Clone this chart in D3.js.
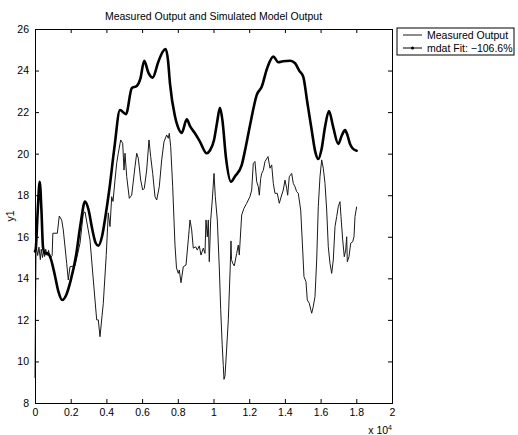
<!DOCTYPE html>
<html>
<head>
<meta charset="utf-8">
<script src="https://cdn.jsdelivr.net/npm/d3@7"></script>
<style>
  html, body { margin: 0; padding: 0; background: #fff; }
  svg { display: block; font-family: "Liberation Sans", Arial, Helvetica, sans-serif; }
</style>
</head>
<body>
<svg id="chart" width="518" height="435"></svg>
<script>
// Sample index (raw units, axis shown as x 10^4) and output value pairs.
const measuredX = [0, 30, 60, 73, 150, 220, 300, 350, 420, 480, 540, 600, 680, 760, 830, 913, 960, 1000, 1250, 1361, 1496, 1585, 1776, 1865, 1961, 2241, 2521, 2706, 2801, 3081, 3266, 3456, 3546, 3641, 3826, 3990, 4106, 4202, 4297, 4370, 4482, 4577, 4666, 4801, 4913, 4986, 5042, 5137, 5283, 5417, 5602, 5697, 5787, 5921, 6033, 6123, 6257, 6386, 6481, 6594, 6722, 6818, 6963, 7098, 7227, 7378, 7467, 7523, 7602, 7714, 7787, 7843, 7927, 8028, 8084, 8179, 8308, 8459, 8588, 8683, 8778, 8868, 9002, 9092, 9204, 9299, 9428, 9523, 9579, 9652, 9708, 9764, 9843, 9932, 10028, 10101, 10213, 10325, 10403, 10487, 10548, 10588, 10644, 10700, 10829, 10935, 10980, 11010, 11075, 11165, 11299, 11389, 11445, 11579, 11708, 11860, 11949, 12043, 12140, 12229, 12324, 12420, 12509, 12565, 12644, 12700, 12790, 12884, 13053, 13165, 13260, 13350, 13445, 13574, 13686, 13820, 13910, 14005, 14100, 14156, 14246, 14380, 14470, 14565, 14660, 14750, 14885, 14997, 15069, 15181, 15254, 15366, 15445, 15501, 15590, 15686, 15781, 15870, 15966, 16061, 16151, 16246, 16341, 16431, 16526, 16621, 16711, 16807, 16902, 16991, 17086, 17142, 17238, 17327, 17406, 17462, 17496, 17590, 17686, 17798, 17871, 17927, 18022];
const measuredY = [9.2, 13.0, 15.5, 15.52, 15.1, 15.5, 14.9, 15.4, 15.0, 15.3, 15.05, 15.4, 15.1, 15.35, 15.0, 15.04, 15.1, 16.17, 16.17, 17.0, 16.8, 16.33, 14.72, 13.92, 14.56, 14.6, 15.69, 17.13, 17.2, 15.85, 13.92, 12.0, 12.0, 11.19, 12.8, 15.1, 17.15, 16.49, 17.93, 17.7, 18.73, 19.54, 20.02, 20.66, 20.5, 19.21, 20.02, 18.9, 17.85, 18.0, 19.37, 20.02, 19.78, 18.73, 18.25, 18.33, 19.21, 20.66, 19.86, 19.05, 17.93, 17.77, 18.41, 19.7, 20.58, 20.9, 20.74, 20.98, 20.34, 18.41, 16.81, 15.6, 14.5, 14.24, 14.4, 13.79, 14.56, 14.64, 15.85, 16.81, 16.33, 15.45, 15.52, 15.36, 15.56, 15.12, 15.45, 15.2, 16.81, 16.0, 16.81, 14.8, 16.81, 17.77, 19.05, 17.93, 16.81, 14.5, 12.5, 10.8, 9.8, 9.14, 9.3, 10.07, 12.0, 14.5, 15.8, 14.9, 14.72, 14.6, 15.2, 15.6, 15.12, 17.05, 17.37, 17.61, 17.77, 17.93, 18.25, 19.54, 19.62, 18.65, 18.41, 18.0, 18.81, 19.05, 19.2, 19.62, 19.86, 19.3, 19.46, 18.57, 18.09, 18.09, 17.61, 18.01, 18.25, 18.73, 18.33, 18.0, 18.89, 19.05, 18.57, 18.41, 18.17, 18.09, 17.29, 15.36, 14.08, 13.84, 12.96, 12.8, 12.51, 12.32, 12.64, 13.12, 14.88, 17.45, 18.89, 19.7, 19.3, 18.57, 17.29, 15.52, 14.72, 14.24, 14.88, 16.49, 16.97, 17.45, 17.69, 16.97, 15.85, 15.04, 15.36, 16.0, 14.8, 15.04, 15.69, 15.76, 16.0, 16.97, 17.45];

const simX = [0, 40, 150, 263, 360, 448, 550, 700, 840, 1100, 1300, 1530, 1750, 2000, 2300, 2550, 2800, 3000, 3200, 3400, 3550, 3750, 3950, 4160, 4450, 4760, 5100, 5420, 5700, 5900, 6120, 6350, 6590, 6900, 7150, 7320, 7450, 7560, 7840, 8000, 8220, 8500, 8700, 8960, 9240, 9620, 9800, 10030, 10200, 10360, 10500, 10700, 10980, 11200, 11580, 11800, 12100, 12420, 12700, 13000, 13350, 13630, 13900, 14290, 14570, 14800, 15030, 15250, 15500, 15700, 15870, 16050, 16250, 16470, 16700, 16990, 17200, 17370, 17500, 17650, 17800, 18020];
const simY = [15.3, 15.4, 17.2, 18.65, 17.3, 15.5, 15.2, 15.2, 15.05, 14.2, 13.4, 12.96, 13.2, 13.9, 15.1, 16.6, 17.69, 17.3, 16.4, 15.7, 15.57, 16.0, 17.0, 18.25, 20.3, 22.1, 21.9, 23.15, 23.26, 23.6, 24.47, 23.9, 23.66, 24.4, 24.9, 25.04, 24.5, 23.4, 21.8, 21.3, 21.0, 21.65, 21.3, 20.98, 20.58, 20.02, 20.15, 20.66, 21.5, 22.21, 21.6, 19.8, 18.65, 18.9, 19.45, 20.3, 21.6, 22.82, 23.22, 24.1, 24.67, 24.4, 24.45, 24.47, 24.35, 24.0, 23.7, 22.5, 21.14, 20.1, 19.74, 20.2, 21.3, 22.05, 21.3, 20.47, 20.9, 21.14, 20.9, 20.47, 20.25, 20.14];

const xTicks = [0, 2000, 4000, 6000, 8000, 10000, 12000, 14000, 16000, 18000, 20000];
const yTicks = [8, 10, 12, 14, 16, 18, 20, 22, 24, 26];
const legendLabels = ["Measured Output", "mdat Fit: \u2212106.6%"];
const titleText = "Measured Output and Simulated Model Output";

const svg = d3.select("#chart");
const plot = { left: 35, right: 392, top: 29, bottom: 403 };

const x = d3.scaleLinear().domain([0, 20000]).range([plot.left, plot.right]);
const y = d3.scaleLinear().domain([8, 26]).range([plot.bottom, plot.top]);

const fontSize = 10.5;
const tickLen = 4;

// Series lines
const measured = measuredX.map((v, i) => [v, measuredY[i]]);
const sim = simX.map((v, i) => [v, simY[i]]);

const line = d3.line().x(d => x(d[0])).y(d => y(d[1]));
const smooth = d3.line().x(d => x(d[0])).y(d => y(d[1])).curve(d3.curveMonotoneX);

svg.append("path")
  .datum(measured)
  .attr("d", line)
  .attr("fill", "none")
  .attr("stroke", "#1a1a1a")
  .attr("stroke-width", 1)
  .attr("stroke-linejoin", "round");

svg.append("path")
  .datum(sim)
  .attr("d", smooth)
  .attr("fill", "none")
  .attr("stroke", "#000")
  .attr("stroke-width", 2.6)
  .attr("stroke-linejoin", "round")
  .attr("stroke-linecap", "round");

// Axes: box with inward ticks on all sides
const axisBottom = d3.axisBottom(x).tickValues(xTicks).tickSize(-tickLen).tickPadding(6)
  .tickFormat(d => d3.format("~g")(d / 10000));
const axisTop = d3.axisTop(x).tickValues(xTicks).tickSize(-tickLen).tickFormat("");
const axisLeft = d3.axisLeft(y).tickValues(yTicks).tickSize(-tickLen).tickPadding(6)
  .tickFormat(d3.format("d"));
const axisRight = d3.axisRight(y).tickValues(yTicks).tickSize(-tickLen).tickFormat("");

function styleAxis(g) {
  g.select(".domain").attr("stroke", "#000").attr("stroke-width", 1);
  g.selectAll(".tick line").attr("stroke", "#000");
  g.selectAll(".tick text").attr("fill", "#000").style("font-size", fontSize + "px")
    .style("font-family", '"Liberation Sans", Arial, sans-serif');
  g.attr("font-family", null).attr("font-size", null);
}

svg.append("g").attr("transform", `translate(0,${plot.bottom})`).call(axisBottom).call(styleAxis);
svg.append("g").attr("transform", `translate(0,${plot.top})`).call(axisTop).call(styleAxis);
svg.append("g").attr("transform", `translate(${plot.left},0)`).call(axisLeft).call(styleAxis);
svg.append("g").attr("transform", `translate(${plot.right},0)`).call(axisRight).call(styleAxis);

// Title
svg.append("text")
  .attr("x", (plot.left + plot.right) / 2)
  .attr("y", 20)
  .attr("text-anchor", "middle")
  .style("font-size", fontSize + "px")
  .text(titleText);

// Axis label and exponent
svg.append("text")
  .attr("transform", `translate(14,${(plot.top + plot.bottom) / 2}) rotate(-90)`)
  .attr("text-anchor", "middle")
  .style("font-size", fontSize + "px")
  .text("y1");

const expo = svg.append("text")
  .attr("x", plot.right)
  .attr("y", 434)
  .attr("text-anchor", "end")
  .style("font-size", fontSize + "px");
expo.append("tspan").text("x 10");
expo.append("tspan").attr("dy", -4).style("font-size", "7px").text("4");

// Legend
const lg = svg.append("g").attr("transform", "translate(397,28)");
lg.append("rect").attr("width", 117).attr("height", 27)
  .attr("fill", "#fff").attr("stroke", "#000").attr("stroke-width", 1);
legendLabels.forEach((lab, i) => {
  const cy = 7 + i * 13;
  lg.append("line").attr("x1", 6).attr("x2", 25).attr("y1", cy).attr("y2", cy)
    .attr("stroke", i === 0 ? "#1a1a1a" : "#000").attr("stroke-width", 1);
  if (i === 1) {
    lg.append("circle").attr("cx", 15.5).attr("cy", cy).attr("r", 1.5).attr("fill", "#000");
  }
  lg.append("text").attr("x", 30).attr("y", cy + 3.5)
    .style("font-size", fontSize + "px").text(lab);
});
</script>
</body>
</html>
